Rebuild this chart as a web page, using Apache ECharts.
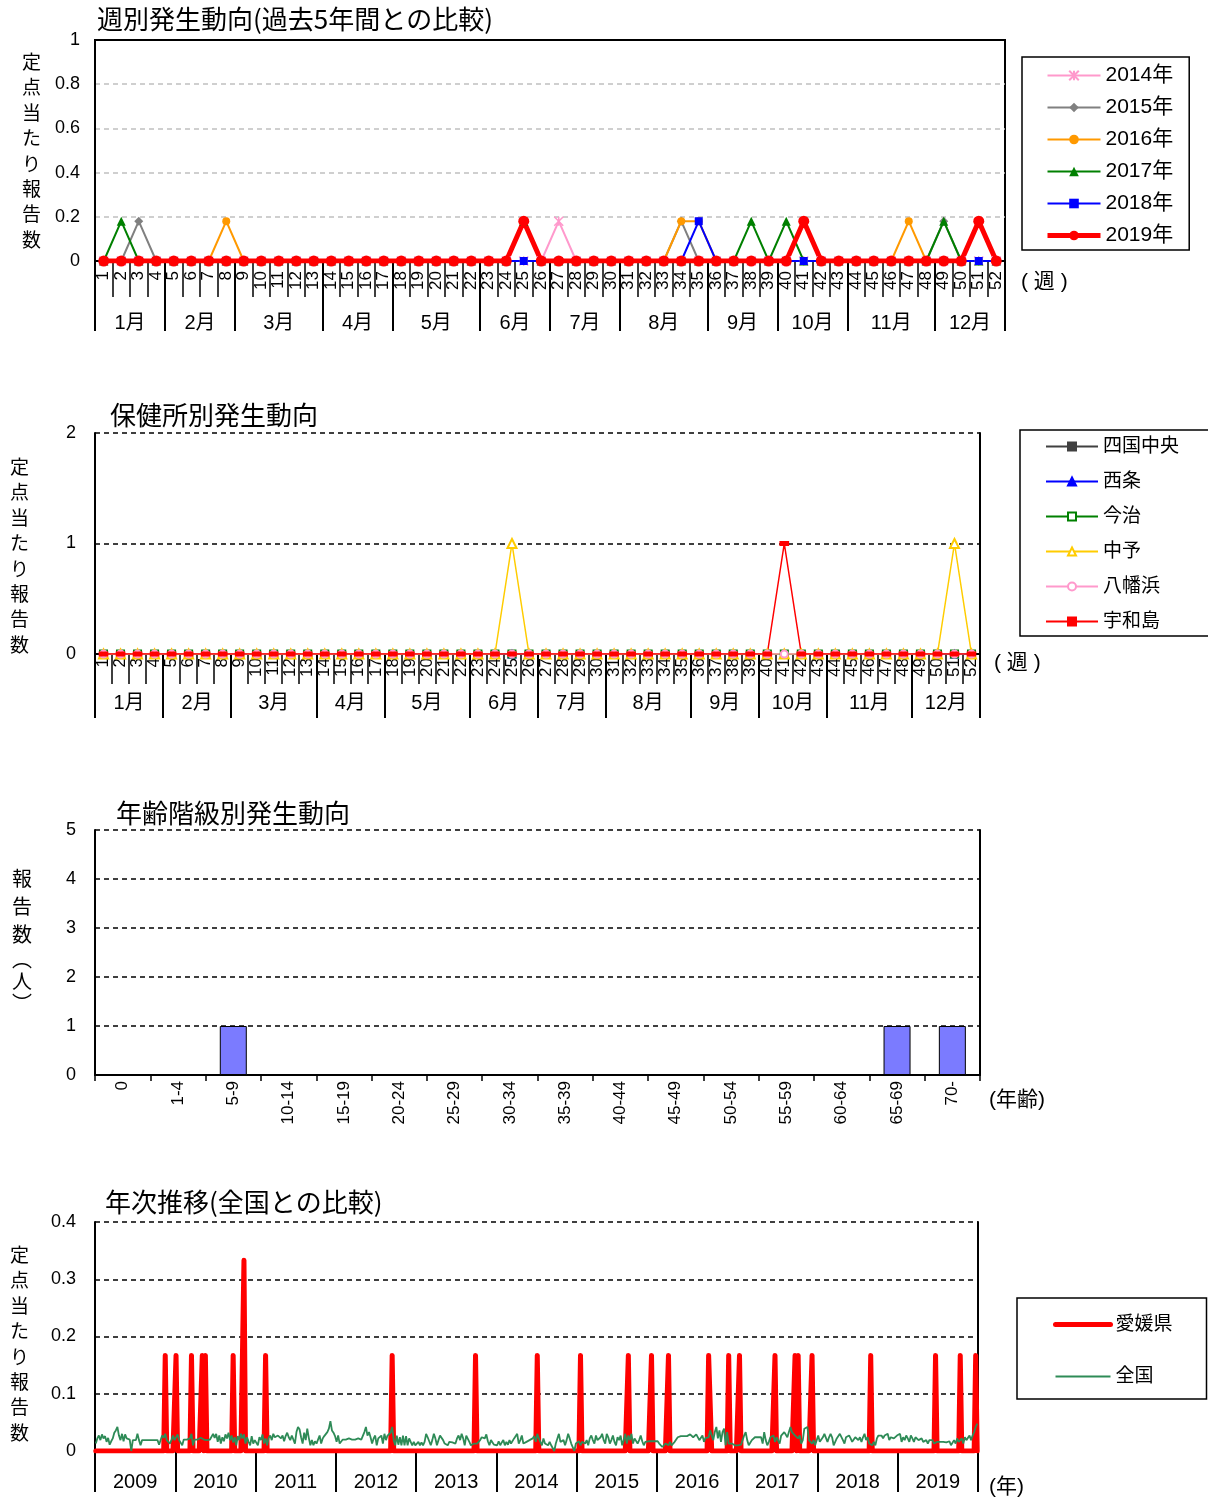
<!DOCTYPE html>
<html><head><meta charset="utf-8">
<script src="https://cdn.jsdelivr.net/npm/echarts@6/dist/echarts.min.js"></script>
<style>html,body{margin:0;padding:0;background:#fff}#c{width:1208px;height:1501px}</style>
</head><body><div id="c"></div>
<script>
// ---------- tick labels / categories ----------
const weekLabels = ['1','2','3','4','5','6','7','8','9','10','11','12','13','14','15','16','17','18','19','20','21','22','23','24','25','26',
  '27','28','29','30','31','32','33','34','35','36','37','38','39','40','41','42','43','44','45','46','47','48','49','50','51','52'];
const monthLabels = ['1月','2月','3月','4月','5月','6月','7月','8月','9月','10月','11月','12月'];
const monthWeekCounts = [4,4,5,4,5,4,4,5,4,4,5,4];
const ageGroups = ['0','1-4','5-9','10-14','15-19','20-24','25-29','30-34','35-39','40-44','45-49','50-54','55-59','60-64','65-69','70-'];
const yearLabels = ['2009','2010','2011','2012','2013','2014','2015','2016','2017','2018','2019'];

// ---------- panel 1: weekly, last 5 years (per sentinel) ----------
const y2014 = [0,0,0,0,0,0,0,0,0,0,0,0,0, 0,0,0,0,0,0,0,0,0,0,0,0,0, 0.18,0,0,0,0,0,0,0,0,0,0,0,0, 0,0,0,0,0,0,0,0,0,0,0,0,0];
const y2015 = [0,0,0.18,0,0,0,0,0,0,0,0,0,0, 0,0,0,0,0,0,0,0,0,0,0,0,0, 0,0,0,0,0,0,0,0.18,0,0,0,0,0, 0,0,0,0,0,0,0,0,0,0.18,0,0,0];
const y2016 = [0,0,0,0,0,0,0,0.18,0,0,0,0,0, 0,0,0,0,0,0,0,0,0,0,0,0,0, 0,0,0,0,0,0,0,0.18,0.18,0,0,0,0, 0,0,0,0,0,0,0,0.18,0,0,0,0,0];
const y2017 = [0,0.18,0,0,0,0,0,0,0,0,0,0,0, 0,0,0,0,0,0,0,0,0,0,0,0.18,0, 0,0,0,0,0,0,0,0,0,0,0,0.18,0, 0.18,0,0,0,0,0,0,0,0,0.18,0,0,0];
const y2018 = [0,0,0,0,0,0,0,0,0,0,0,0,0, 0,0,0,0,0,0,0,0,0,0,0,0,0, 0,0,0,0,0,0,0,0,0.18,0,0,0,0, 0,0,0,0,0,0,0,0,0,0,0,0,0];
const y2019 = [0,0,0,0,0,0,0,0,0,0,0,0,0, 0,0,0,0,0,0,0,0,0,0,0,0.18,0, 0,0,0,0,0,0,0,0,0,0,0,0,0, 0,0.18,0,0,0,0,0,0,0,0,0,0.18,0];

// ---------- panel 2: by health centre (2019) ----------
const shikokuchuo = [0,0,0,0,0,0,0,0,0,0,0,0,0, 0,0,0,0,0,0,0,0,0,0,0,0,0, 0,0,0,0,0,0,0,0,0,0,0,0,0, 0,0,0,0,0,0,0,0,0,0,0,0,0];
const saijo       = [0,0,0,0,0,0,0,0,0,0,0,0,0, 0,0,0,0,0,0,0,0,0,0,0,0,0, 0,0,0,0,0,0,0,0,0,0,0,0,0, 0,0,0,0,0,0,0,0,0,0,0,0,0];
const imabari     = [0,0,0,0,0,0,0,0,0,0,0,0,0, 0,0,0,0,0,0,0,0,0,0,0,0,0, 0,0,0,0,0,0,0,0,0,0,0,0,0, 0,0,0,0,0,0,0,0,0,0,0,0,0];
const chuyo       = [0,0,0,0,0,0,0,0,0,0,0,0,0, 0,0,0,0,0,0,0,0,0,0,0,1,0, 0,0,0,0,0,0,0,0,0,0,0,0,0, 0,0,0,0,0,0,0,0,0,0,0,1,0];
const yawatahama  = [0,0,0,0,0,0,0,0,0,0,0,0,0, 0,0,0,0,0,0,0,0,0,0,0,0,0, 0,0,0,0,0,0,0,0,0,0,0,0,0, 0,0,0,0,0,0,0,0,0,0,0,0,0];
const uwajima     = [0,0,0,0,0,0,0,0,0,0,0,0,0, 0,0,0,0,0,0,0,0,0,0,0,0,0, 0,0,0,0,0,0,0,0,0,0,0,0,0, 0,1,0,0,0,0,0,0,0,0,0,0,0];

// ---------- panel 3: by age group ----------
const ageCounts = [0,0,1,0,0,0,0,0,0,0,0,0,0,0,1,1];

// ---------- panel 4: yearly trend, weekly values 2009-2019 ----------
const ehimeWeekly = [
 /*2009*/ 0,0,0,0,0,0,0,0,0,0,0,0,0, 0,0,0,0,0,0,0,0,0,0,0,0,0, 0,0,0,0,0,0,0,0,0,0,0,0,0, 0,0,0,0,0,0,0.167,0,0,0,0,0,0,
 /*2010*/ 0.167,0,0,0,0,0,0,0,0,0,0.167,0,0, 0,0,0,0,0.167,0,0.167,0,0,0,0,0,0, 0,0,0,0,0,0,0,0,0,0,0,0.167,0, 0,0,0,0,0,0.333,0,0,0,0,0,0,0,
 /*2011*/ 0,0,0,0,0,0,0.167,0,0,0,0,0,0, 0,0,0,0,0,0,0,0,0,0,0,0,0, 0,0,0,0,0,0,0,0,0,0,0,0,0, 0,0,0,0,0,0,0,0,0,0,0,0,0,
 /*2012*/ 0,0,0,0,0,0,0,0,0,0,0,0,0, 0,0,0,0,0,0,0,0,0,0,0,0,0, 0,0,0,0,0,0,0,0,0,0,0.167,0,0, 0,0,0,0,0,0,0,0,0,0,0,0,0,
 /*2013*/ 0,0,0,0,0,0,0,0,0,0,0,0,0, 0,0,0,0,0,0,0,0,0,0,0,0,0, 0,0,0,0,0,0,0,0,0,0,0,0,0.167, 0,0,0,0,0,0,0,0,0,0,0,0,0,
 /*2014*/ 0,0,0,0,0,0,0,0,0,0,0,0,0, 0,0,0,0,0,0,0,0,0,0,0,0,0, 0.167,0,0,0,0,0,0,0,0,0,0,0,0, 0,0,0,0,0,0,0,0,0,0,0,0,0,
 /*2015*/ 0,0,0.167,0,0,0,0,0,0,0,0,0,0, 0,0,0,0,0,0,0,0,0,0,0,0,0, 0,0,0,0,0,0,0,0.167,0,0,0,0,0, 0,0,0,0,0,0,0,0,0,0.167,0,0,0,
 /*2016*/ 0,0,0,0,0,0,0,0.167,0,0,0,0,0, 0,0,0,0,0,0,0,0,0,0,0,0,0, 0,0,0,0,0,0,0,0.167,0.167,0,0,0,0, 0,0,0,0,0,0,0,0.167,0,0,0,0,0,
 /*2017*/ 0,0.167,0,0,0,0,0,0,0,0,0,0,0, 0,0,0,0,0,0,0,0,0,0,0,0.167,0, 0,0,0,0,0,0,0,0,0,0,0,0.167,0, 0.167,0,0,0,0,0,0,0,0,0.167,0,0,0,
 /*2018*/ 0,0,0,0,0,0,0,0,0,0,0,0,0, 0,0,0,0,0,0,0,0,0,0,0,0,0, 0,0,0,0,0,0,0,0,0.167,0,0,0,0, 0,0,0,0,0,0,0,0,0,0,0,0,0,
 /*2019*/ 0,0,0,0,0,0,0,0,0,0,0,0,0, 0,0,0,0,0,0,0,0,0,0,0,0.167,0, 0,0,0,0,0,0,0,0,0,0,0,0,0, 0,0.167,0,0,0,0,0,0,0,0,0,0.167,0
];
const nationalWeekly = [
 /*2009*/ 0.013,0.022,0.027,0.019,0.029,0.022,0.026,0.016,0.023,0.011,0.017,0.022,0.032,
          0.036,0.042,0.027,0.019,0.030,0.017,0.029,0.022,0.019,0.020,0.000,0.019,0.020,
          0.019,0.030,0.019,0.010,0.019,0.019,0.019,0.019,0.019,0.019,0.019,0.019,0.019,
          0.019,0.019,0.011,0.010,0.027,0.023,0.030,0.019,0.022,0.013,0.019,0.027,0.019,
 /*2010*/ 0.019,0.029,0.019,0.019,0.010,0.020,0.020,0.020,0.020,0.022,0.030,0.010,0.020,
          0.020,0.020,0.020,0.023,0.020,0.020,0.020,0.019,0.020,0.020,0.022,0.030,0.023,
          0.030,0.016,0.027,0.013,0.024,0.017,0.029,0.022,0.032,0.019,0.027,0.015,0.024,
          0.010,0.026,0.019,0.030,0.022,0.029,0.013,0.024,0.016,0.010,0.026,0.013,0.019,
 /*2011*/ 0.022,0.010,0.024,0.019,0.029,0.013,0.022,0.010,0.023,0.027,
          0.019,0.030,0.024,0.026,0.027,0.030,0.022,0.027,0.017,0.026,
          0.032,0.024,0.019,0.027,0.030,0.013,0.033,0.042,0.038,0.024,
          0.013,0.032,0.019,0.039,0.023,0.010,0.019,0.010,0.017,0.013,
          0.010,0.027,0.013,0.022,0.026,0.024,0.033,0.039,0.052,0.036,
          0.032,0.026,
 /*2012*/ 0.016,0.027,0.013,0.010,0.020,0.020,0.020,0.020,0.022,0.020,
          0.020,0.020,0.020,0.020,0.022,0.020,0.020,0.023,0.033,0.042,
          0.027,0.033,0.024,0.013,0.022,0.027,0.010,0.022,0.019,0.027,
          0.013,0.030,0.019,0.027,0.024,0.032,0.042,0.019,0.010,0.027,
          0.011,0.024,0.010,0.027,0.010,0.026,0.010,0.022,0.016,0.010,
          0.016,0.010,
 /*2013*/ 0.010,0.016,0.010,0.015,0.010,0.016,0.030,0.024,0.027,0.010,
          0.019,0.030,0.022,0.010,0.019,0.027,0.030,0.019,0.013,0.010,
          0.010,0.016,0.019,0.015,0.017,0.013,0.022,0.027,0.019,0.030,
          0.022,0.010,0.027,0.030,0.016,0.010,0.011,0.013,0.010,0.013,
          0.016,0.019,0.024,0.027,0.022,0.029,0.017,0.010,0.019,0.015,
          0.011,0.013,
 /*2014*/ 0.010,0.017,0.010,0.015,0.019,0.010,0.016,0.011,0.019,0.013,
          0.016,0.022,0.024,0.030,0.013,0.019,0.027,0.013,0.010,0.016,
          0.017,0.019,0.022,0.022,0.026,0.016,0.030,0.022,0.024,0.010,
          0.022,0.013,0.013,0.010,0.016,0.010,0.010,0.000,0.013,0.016,
          0.030,0.016,0.013,0.019,0.010,0.019,0.030,0.022,0.013,0.010,
          0.000,0.013,
 /*2015*/ 0.016,0.017,0.010,0.016,0.017,0.013,0.019,0.010,0.022,0.027,
          0.019,0.013,0.027,0.019,0.016,0.024,0.030,0.019,0.013,0.030,
          0.024,0.013,0.019,0.027,0.016,0.010,0.024,0.019,0.027,0.010,
          0.019,0.030,0.013,0.027,0.019,0.030,0.013,0.022,0.022,0.013,
          0.019,0.027,0.017,0.010,0.016,0.017,0.017,0.017,0.017,0.016,
          0.017,0.016,
 /*2016*/ 0.017,0.013,0.010,0.007,0.010,0.013,0.010,0.010,0.016,0.010,
          0.013,0.016,0.019,0.024,0.026,0.026,0.026,0.026,0.026,0.026,
          0.024,0.029,0.030,0.024,0.022,0.029,0.027,0.019,0.022,0.027,
          0.016,0.023,0.022,0.024,0.036,0.039,0.019,0.033,0.042,0.022,
          0.036,0.016,0.033,0.039,0.010,0.033,0.013,0.010,0.013,0.011,
          0.010,0.013,
 /*2017*/ 0.010,0.013,0.011,0.019,0.027,0.033,0.019,0.010,0.013,0.019,
          0.022,0.024,0.027,0.024,0.022,0.024,0.013,0.033,0.019,0.010,
          0.016,0.024,0.022,0.027,0.016,0.024,0.022,0.013,0.027,0.024,
          0.033,0.030,0.024,0.033,0.042,0.033,0.036,0.027,0.030,0.022,
          0.027,0.013,0.019,0.039,0.040,0.042,0.019,0.022,0.013,0.019,
          0.010,0.019,
 /*2018*/ 0.027,0.016,0.013,0.024,0.030,0.027,0.016,0.024,0.030,0.024,
          0.010,0.016,0.022,0.024,0.030,0.027,0.019,0.013,0.024,0.022,
          0.027,0.022,0.016,0.016,0.024,0.027,0.019,0.024,0.016,0.024,
          0.030,0.019,0.024,0.013,0.013,0.010,0.016,0.010,0.022,0.027,
          0.024,0.027,0.022,0.027,0.024,0.030,0.019,0.024,0.027,0.022,
          0.019,0.027,
 /*2019*/ 0.030,0.030,0.016,0.024,0.019,0.027,0.022,0.016,0.027,0.022,
          0.016,0.024,0.027,0.019,0.016,0.022,0.016,0.019,0.019,0.013,
          0.019,0.016,0.019,0.013,0.016,0.016,0.013,0.016,0.019,0.016,
          0.017,0.015,0.013,0.017,0.010,0.013,0.019,0.013,0.022,0.016,
          0.019,0.022,0.013,0.024,0.019,0.022,0.027,0.019,0.027,0.033,
          0.042,0.048
];

// ---------- derived axis helpers ----------
const monthBounds = [0];
monthWeekCounts.forEach(c => monthBounds.push(monthBounds[monthBounds.length - 1] + c));
const monthCenters = monthLabels.map((_, i) => (monthBounds[i] + monthBounds[i + 1]) / 2);
const monthFormatter = v => {
  let best = 0;
  monthCenters.forEach((c, i) => { if (Math.abs(c - v) < Math.abs(monthCenters[best] - v)) best = i; });
  return monthLabels[best];
};
const weeklyCategories = yearLabels.flatMap(y => weekLabels.map(w => y + '-' + w));

const FONT = '"Liberation Sans", Arial, "Noto Sans CJK JP", sans-serif';
const JFONT = '"Noto Sans CJK JP", "Liberation Sans", sans-serif';
const vert = s => s.split('').join('\n');
const black = '#000';

function weekAxis(grid, tickLen, margin) {
  return {
    type: 'category', gridIndex: grid, data: weekLabels, boundaryGap: true, position: 'bottom',
    axisLine: { show: true, lineStyle: { color: black, width: 2 } },
    axisTick: { show: true, interval: 0, length: tickLen, lineStyle: { color: black, width: 1.5 } },
    axisLabel: { interval: 0, rotate: 90, margin: margin, fontSize: 17, color: black, fontFamily: FONT },
    splitLine: { show: false }
  };
}
function monthAxis(grid, tickLen, margin) {
  return {
    type: 'value', gridIndex: grid, min: 0, max: 52, position: 'bottom',
    axisLine: { show: false }, splitLine: { show: false },
    axisTick: { show: true, customValues: monthBounds, length: tickLen, lineStyle: { color: black, width: 2 } },
    axisLabel: { show: true, customValues: monthCenters, formatter: monthFormatter, margin: margin, fontSize: 20, color: black, fontFamily: FONT }
  };
}
function leftAxis(grid, max, interval, margin, dashedColor, showMax) {
  return {
    type: 'value', gridIndex: grid, min: 0, max: max, interval: interval, position: 'left',
    axisLine: { show: true, lineStyle: { color: black, width: 2 } },
    axisTick: { show: false },
    axisLabel: { margin: margin, fontSize: 18, color: black, fontFamily: FONT },
    splitLine: { show: true, showMinLine: false, showMaxLine: showMax,
      lineStyle: { color: dashedColor, type: [5, 4], width: 1.5 } }
  };
}
function rightAxis(grid, max) {
  return {
    type: 'value', gridIndex: grid, min: 0, max: max, position: 'right',
    axisLine: { show: true, lineStyle: { color: black, width: 2 } },
    axisTick: { show: false }, axisLabel: { show: false }, splitLine: { show: false }
  };
}
function legendBox(names, left, top, padding, gap, itemW, itemH, fs) {
  return {
    data: names, orient: 'vertical', left: left, top: top, padding: padding, itemGap: gap,
    itemWidth: itemW, itemHeight: itemH, borderColor: black, borderWidth: 1.5, backgroundColor: '#fff',
    selectedMode: false, textStyle: { fontSize: fs, color: black, fontFamily: FONT }
  };
}
function yearLine(name, data, color, symbol, size, width, extra) {
  return Object.assign({
    type: 'line', name: name, data: data, xAxisIndex: 0, yAxisIndex: 0,
    symbol: symbol, symbolSize: size, showSymbol: true,
    lineStyle: { color: color, width: width }, itemStyle: { color: color }
  }, extra || {});
}
function hcLine(name, data, color, symbol, size) {
  return {
    type: 'line', name: name, data: data, xAxisIndex: 2, yAxisIndex: 1,
    symbol: symbol, symbolSize: size,
    lineStyle: { color: color, width: 1.5 }, itemStyle: { color: color, borderColor: color, borderWidth: 1.2 }
  };
}

const titleStyle = { fontSize: 26, fontWeight: 'normal', color: black, fontFamily: JFONT };
const vStyle = { fontSize: 19, lineHeight: 25.4, fontWeight: 'normal', color: black, fontFamily: JFONT };
const nameStyle = (pad) => ({ fontSize: 21, color: black, fontFamily: FONT, align: 'left', verticalAlign: 'top', padding: [pad, 0, 0, 0] });

const option = {
  animation: false,
  backgroundColor: '#fff',
  textStyle: { fontFamily: FONT, color: black },
  title: [
    { text: '週別発生動向(過去5年間との比較)', left: 97, top: 6, padding: 0, textStyle: titleStyle },
    { text: '保健所別発生動向', left: 110, top: 402, padding: 0, textStyle: titleStyle },
    { text: '年齢階級別発生動向', left: 116, top: 800, padding: 0, textStyle: titleStyle },
    { text: '年次推移(全国との比較)', left: 105, top: 1189, padding: 0, textStyle: titleStyle },
    // vertical axis titles
    { text: vert('定点当たり報告数'), left: 22, top: 49, padding: 0, textStyle: vStyle },
    { text: vert('定点当たり報告数'), left: 10, top: 454, padding: 0, textStyle: vStyle },
    { text: '{a|報}\n{a|告}\n{a|数}\n{b|︵}\n{b|人}\n{b|︶}', left: 12, top: 864, padding: 0,
      textStyle: { fontWeight: 'normal', color: black, fontFamily: JFONT, fontSize: 20,
        rich: { a: { fontSize: 20, lineHeight: 28, fontFamily: JFONT, color: black },
                b: { fontSize: 20, lineHeight: 22, fontFamily: JFONT, color: black } } } },
    { text: vert('定点当たり報告数'), left: 10, top: 1242, padding: 0, textStyle: vStyle }
  ],
  legend: [
    legendBox(['2014年','2015年','2016年','2017年','2018年',
      { name: '2019年', lineStyle: { width: 5 } }], 1022, 57, [8, 16, 4, 23], 11, 53, 12, 21),
    legendBox(['四国中央','西条','今治','中予','八幡浜','宇和島'], 1020, 430, [7, 40, 5, 25], 16, 52, 10, 19),
    legendBox([{ name: '愛媛県', lineStyle: { width: 5 }, itemStyle: { opacity: 0 } },
               { name: '全国', lineStyle: { width: 1.8 }, itemStyle: { opacity: 0 } }], 1017, 1298, [17, 34, 13, 36], 33, 55, 12, 19)
  ],
  grid: [
    { left: 95, top: 40, width: 910, height: 221, show: true, borderColor: black, borderWidth: 2, containLabel: false, outerBoundsMode: 'none' },
    { left: 95, top: 433, width: 885, height: 221, containLabel: false, outerBoundsMode: 'none' },
    { left: 95, top: 830, width: 885, height: 245, containLabel: false, outerBoundsMode: 'none' },
    { left: 95, top: 1222, width: 883, height: 229, containLabel: false, outerBoundsMode: 'none' }
  ],
  xAxis: [
    Object.assign(weekAxis(0, 36, 10), { name: '( 週 )', nameLocation: 'end', nameGap: 16, nameTextStyle: nameStyle(11) }),
    monthAxis(0, 70, 52),
    Object.assign(weekAxis(1, 30, 4), { name: '( 週 )', nameLocation: 'end', nameGap: 14, nameTextStyle: nameStyle(-1) }),
    monthAxis(1, 64, 39),
    {
      type: 'category', gridIndex: 2, data: ageGroups, boundaryGap: true, position: 'bottom',
      axisLine: { show: true, lineStyle: { color: black, width: 2 } },
      axisTick: { show: true, interval: 0, length: 6, lineStyle: { color: black, width: 1.5 } },
      axisLabel: { interval: 0, rotate: 90, margin: 6, fontSize: 17, color: black, fontFamily: FONT },
      name: '(年齢)', nameLocation: 'end', nameGap: 9, nameTextStyle: nameStyle(15)
    },
    {
      type: 'category', gridIndex: 3, data: weeklyCategories, boundaryGap: true, position: 'bottom',
      axisLine: { show: true, lineStyle: { color: black, width: 2 } },
      axisTick: { show: false }, axisLabel: { show: false },
      name: '(年)', nameLocation: 'end', nameGap: 11, nameTextStyle: nameStyle(26)
    },
    {
      type: 'category', gridIndex: 3, data: yearLabels, boundaryGap: true, position: 'bottom',
      axisLine: { show: false },
      axisTick: { show: true, interval: 0, length: 41, lineStyle: { color: black, width: 2 } },
      axisLabel: { interval: 0, margin: 21, fontSize: 20, color: black, fontFamily: FONT }
    }
  ],
  yAxis: [
    leftAxis(0, 1, 0.2, 15, '#c0c0c0', false),
    leftAxis(1, 2, 1, 19, black, true),
    rightAxis(1, 2),
    leftAxis(2, 5, 1, 19, black, true),
    rightAxis(2, 5),
    leftAxis(3, 0.4, 0.1, 19, black, true),
    rightAxis(3, 0.4)
  ],
  series: [
    yearLine('2014年', y2014, '#ff99cc', 'path://M0,0L10,10M10,0L0,10M5,0L5,10', 9, 2,
      { itemStyle: { color: '#ff99cc', borderColor: '#ff99cc', borderWidth: 1.5 } }),
    yearLine('2015年', y2015, '#808080', 'diamond', 9, 2),
    yearLine('2016年', y2016, '#ff9900', 'circle', 8, 2),
    yearLine('2017年', y2017, '#008000', 'triangle', 9, 2),
    yearLine('2018年', y2018, '#0000ff', 'rect', 8, 2),
    yearLine('2019年', y2019, '#ff0000', 'circle', 11, 5),

    hcLine('四国中央', shikokuchuo, '#404040', 'rect', 7),
    hcLine('西条', saijo, '#0000ff', 'triangle', 8),
    hcLine('今治', imabari, '#008000', 'emptyRect', 7),
    hcLine('中予', chuyo, '#ffcc00', 'emptyTriangle', 9),
    hcLine('八幡浜', yawatahama, '#ff99cc', 'emptyCircle', 7),
    hcLine('宇和島', uwajima, '#ff0000', 'rect', [8, 4]),

    { type: 'bar', name: '報告数', data: ageCounts, xAxisIndex: 4, yAxisIndex: 3, barWidth: 27,
      itemStyle: { color: '#7b7bff', borderColor: black, borderWidth: 1 } },

    { type: 'line', name: '愛媛県', data: ehimeWeekly, xAxisIndex: 5, yAxisIndex: 5, showSymbol: false, symbol: 'none',
      lineStyle: { color: '#ff0000', width: 5, cap: 'round', join: 'round' }, itemStyle: { color: '#ff0000' } },
    { type: 'line', name: '全国', data: nationalWeekly, xAxisIndex: 5, yAxisIndex: 5, showSymbol: false, symbol: 'none',
      lineStyle: { color: '#2e8b57', width: 1.8 }, itemStyle: { color: '#2e8b57' } }
  ]
};

const chart = echarts.init(document.getElementById('c'), null, { renderer: 'canvas', width: 1208, height: 1501 });
chart.setOption(option);
</script>
</body></html>
